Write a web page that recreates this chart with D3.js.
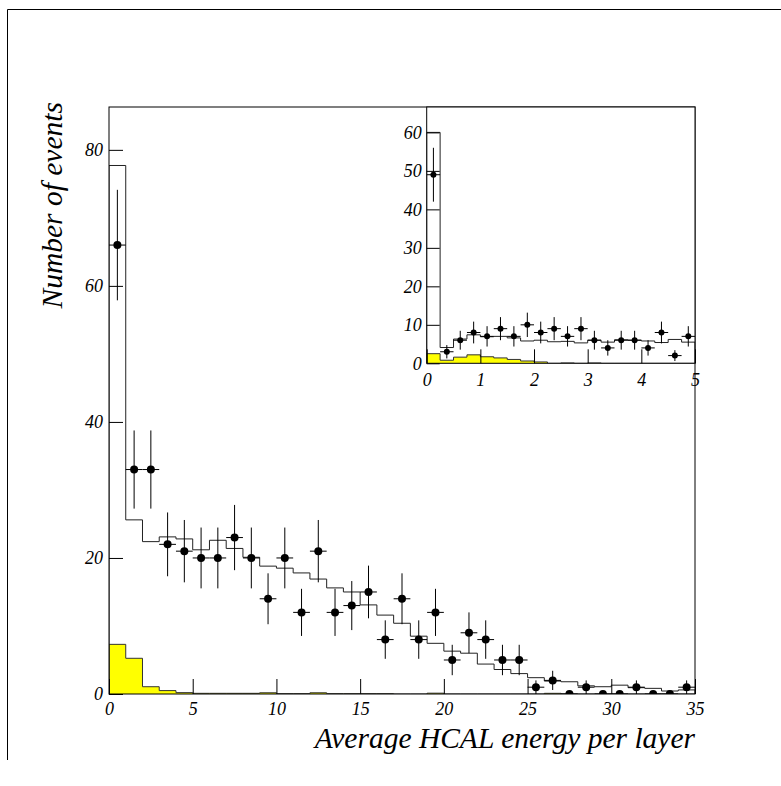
<!DOCTYPE html>
<html>
<head>
<meta charset="utf-8">
<script src="https://cdn.jsdelivr.net/npm/d3@7"></script>
<style>
  html, body { margin: 0; padding: 0; background: #fff; }
</style>
</head>
<body>
<svg id="chart" width="781" height="786"></svg>
<script>
// ---- main plot: 35 bins of width 1 ----
const mainData   = [66,33,33,22,21,20,20,23,20,14,20,12,21,12,13,15,8,14,8,12,5,9,8,5,5,1,2,0,1,0,0,1,0,0,1];
const mainMC     = [77.7,25.6,22.4,23.1,22.8,21.2,22.6,21.4,20.1,18.8,18.5,17.8,16.9,15.6,15.0,13.1,11.6,10.4,8.5,7.45,6.3,6.0,4.4,3.6,3.0,2.4,1.9,1.8,1.2,1.07,1.3,0.93,0.83,0.44,0.6];
const mainBkg    = [7.3,5.25,1.07,0.5,0.2,0.1,0.1,0.1,0.1,0.18,0.05,0.05,0.18,0.05,0.05,0.05,0.05,0,0,0.12,0,0,0,0,0,0,0.1,0,0,0,0,0,0,0,0];
const mainXTicks = [0,5,10,15,20,25,30,35];
const mainYTicks = [0,20,40,60,80];

// ---- inset: 20 bins of width 0.25 ----
const insetData   = [49,3,6,8,7,9,7,10,8,9,7,9,6,4,6,6,4,8,2,7];
const insetMC     = [60,4.1,6.3,7.4,6.9,7.0,6.6,5.8,6.0,5.6,5.7,5.3,6.0,5.5,6.1,6.0,5.8,5.4,6.2,5.5];
const insetBkg    = [2.5,0.8,1.6,2.2,1.7,1.4,1.0,0.6,0.35,0,0.1,0,0.1,0,0,0,0,0,0,0];
const insetXTicks = [0,1,2,3,4,5];
const insetYTicks = [0,10,20,30,40,50,60];

const FONT = '"Liberation Serif", "DejaVu Serif", "Times New Roman", serif';

const svg = d3.select("#chart");

// outer pad border (left + top)
svg.append("path").attr("d", "M7.5,760 V9.5 H781").attr("fill", "none").attr("stroke", "#000");

function drawHisto(cfg) {
  const { x, y, bw, data, mc, bkg, r, xTicks, yTicks, xTickLen, yTickLen, xPad, yPad, fs, id } = cfg;
  const [x0, x1] = x.range();
  const [y0, y1] = y.range();
  const g = svg.append("g");

  g.append("rect").attr("x", x0).attr("y", y1).attr("width", x1 - x0).attr("height", y0 - y1).attr("fill", "#fff");

  g.append("clipPath").attr("id", id).append("rect")
    .attr("x", x0).attr("y", y1).attr("width", x1 - x0).attr("height", y0 - y1);
  const inner = g.append("g").attr("clip-path", `url(#${id})`);

  const pts = arr => [[0, 0]].concat(arr.map((v, i) => [i * bw, v]), [[arr.length * bw, arr[arr.length - 1]], [arr.length * bw, 0]]);
  const step = d3.line().x(d => x(d[0])).y(d => y(d[1])).curve(d3.curveStepAfter);

  // background (yellow)
  const area = d3.area().x(d => x(d[0])).y0(y(0)).y1(d => y(d[1])).curve(d3.curveStepAfter);
  const bpts = bkg.map((v, i) => [i * bw, v]).concat([[bkg.length * bw, 0]]);
  inner.append("path").attr("d", area(bpts)).attr("fill", "#ffff00").attr("stroke", "none");
  inner.append("path").attr("d", step(pts(bkg))).attr("fill", "none").attr("stroke", "#333").attr("stroke-width", 1);

  // MC histogram
  inner.append("path").attr("d", step(pts(mc))).attr("fill", "none").attr("stroke", "#222").attr("stroke-width", 1);

  // data error bars + markers
  const pt = data.map((v, i) => ({ c: (i + 0.5) * bw, v, e: Math.sqrt(v) }));
  inner.selectAll(null).data(pt.filter(d => d.v > 0)).join("line")
    .attr("x1", d => x(d.c)).attr("x2", d => x(d.c))
    .attr("y1", d => y(d.v - d.e)).attr("y2", d => y(d.v + d.e))
    .attr("stroke", "#000").attr("stroke-width", 1);
  inner.selectAll(null).data(pt).join("line")
    .attr("x1", d => x(d.c - bw / 2)).attr("x2", d => x(d.c + bw / 2))
    .attr("y1", d => y(d.v)).attr("y2", d => y(d.v))
    .attr("stroke", "#000").attr("stroke-width", 1);
  inner.selectAll(null).data(pt).join("circle")
    .attr("cx", d => x(d.c)).attr("cy", d => y(d.v)).attr("r", r).attr("fill", "#000");

  // axes
  const ax = g.append("g").attr("transform", `translate(0,${y0})`)
    .call(d3.axisBottom(x).tickValues(xTicks).tickSize(-xTickLen).tickPadding(xPad).tickFormat(d3.format("d")));
  const ay = g.append("g").attr("transform", `translate(${x0},0)`)
    .call(d3.axisLeft(y).tickValues(yTicks).tickSize(-yTickLen).tickPadding(yPad).tickFormat(d3.format("d")));
  [ax, ay].forEach(a => {
    a.attr("font-family", null).attr("font-size", null);
    a.select(".domain").remove();
    a.selectAll("line").attr("stroke", "#000");
    a.selectAll("text")
      .style("font-family", FONT).style("font-style", "italic").style("font-size", fs + "px").attr("fill", "#000");
  });

  // frame
  g.append("rect").attr("x", x0).attr("y", y1).attr("width", x1 - x0).attr("height", y0 - y1)
    .attr("fill", "none").attr("stroke", "#000").attr("stroke-width", 1);
}

drawHisto({
  id: "clipMain",
  x: d3.scaleLinear().domain([0, 35]).range([109, 695]),
  y: d3.scaleLinear().domain([0, 86.3]).range([694, 107]),
  bw: 1, data: mainData, mc: mainMC, bkg: mainBkg, r: 4,
  xTicks: mainXTicks, yTicks: mainYTicks, xTickLen: 15, yTickLen: 14, xPad: 8, yPad: 6, fs: 18
});

drawHisto({
  id: "clipInset",
  x: d3.scaleLinear().domain([0, 5]).range([426.7, 695]),
  y: d3.scaleLinear().domain([0, 66.6]).range([363.3, 107]),
  bw: 0.25, data: insetData, mc: insetMC, bkg: insetBkg, r: 3,
  xTicks: insetXTicks, yTicks: insetYTicks, xTickLen: 14, yTickLen: 13, xPad: 10, yPad: 5, fs: 18
});

// axis titles
svg.append("text").attr("x", 695).attr("y", 748).attr("text-anchor", "end")
  .style("font-family", FONT).style("font-style", "italic").style("font-size", "29.5px")
  .text("Average HCAL energy per layer");
svg.append("text").attr("transform", "translate(62,102) rotate(-90)").attr("text-anchor", "end")
  .style("font-family", FONT).style("font-style", "italic").style("font-size", "29.5px")
  .text("Number of events");
</script>
</body>
</html>
